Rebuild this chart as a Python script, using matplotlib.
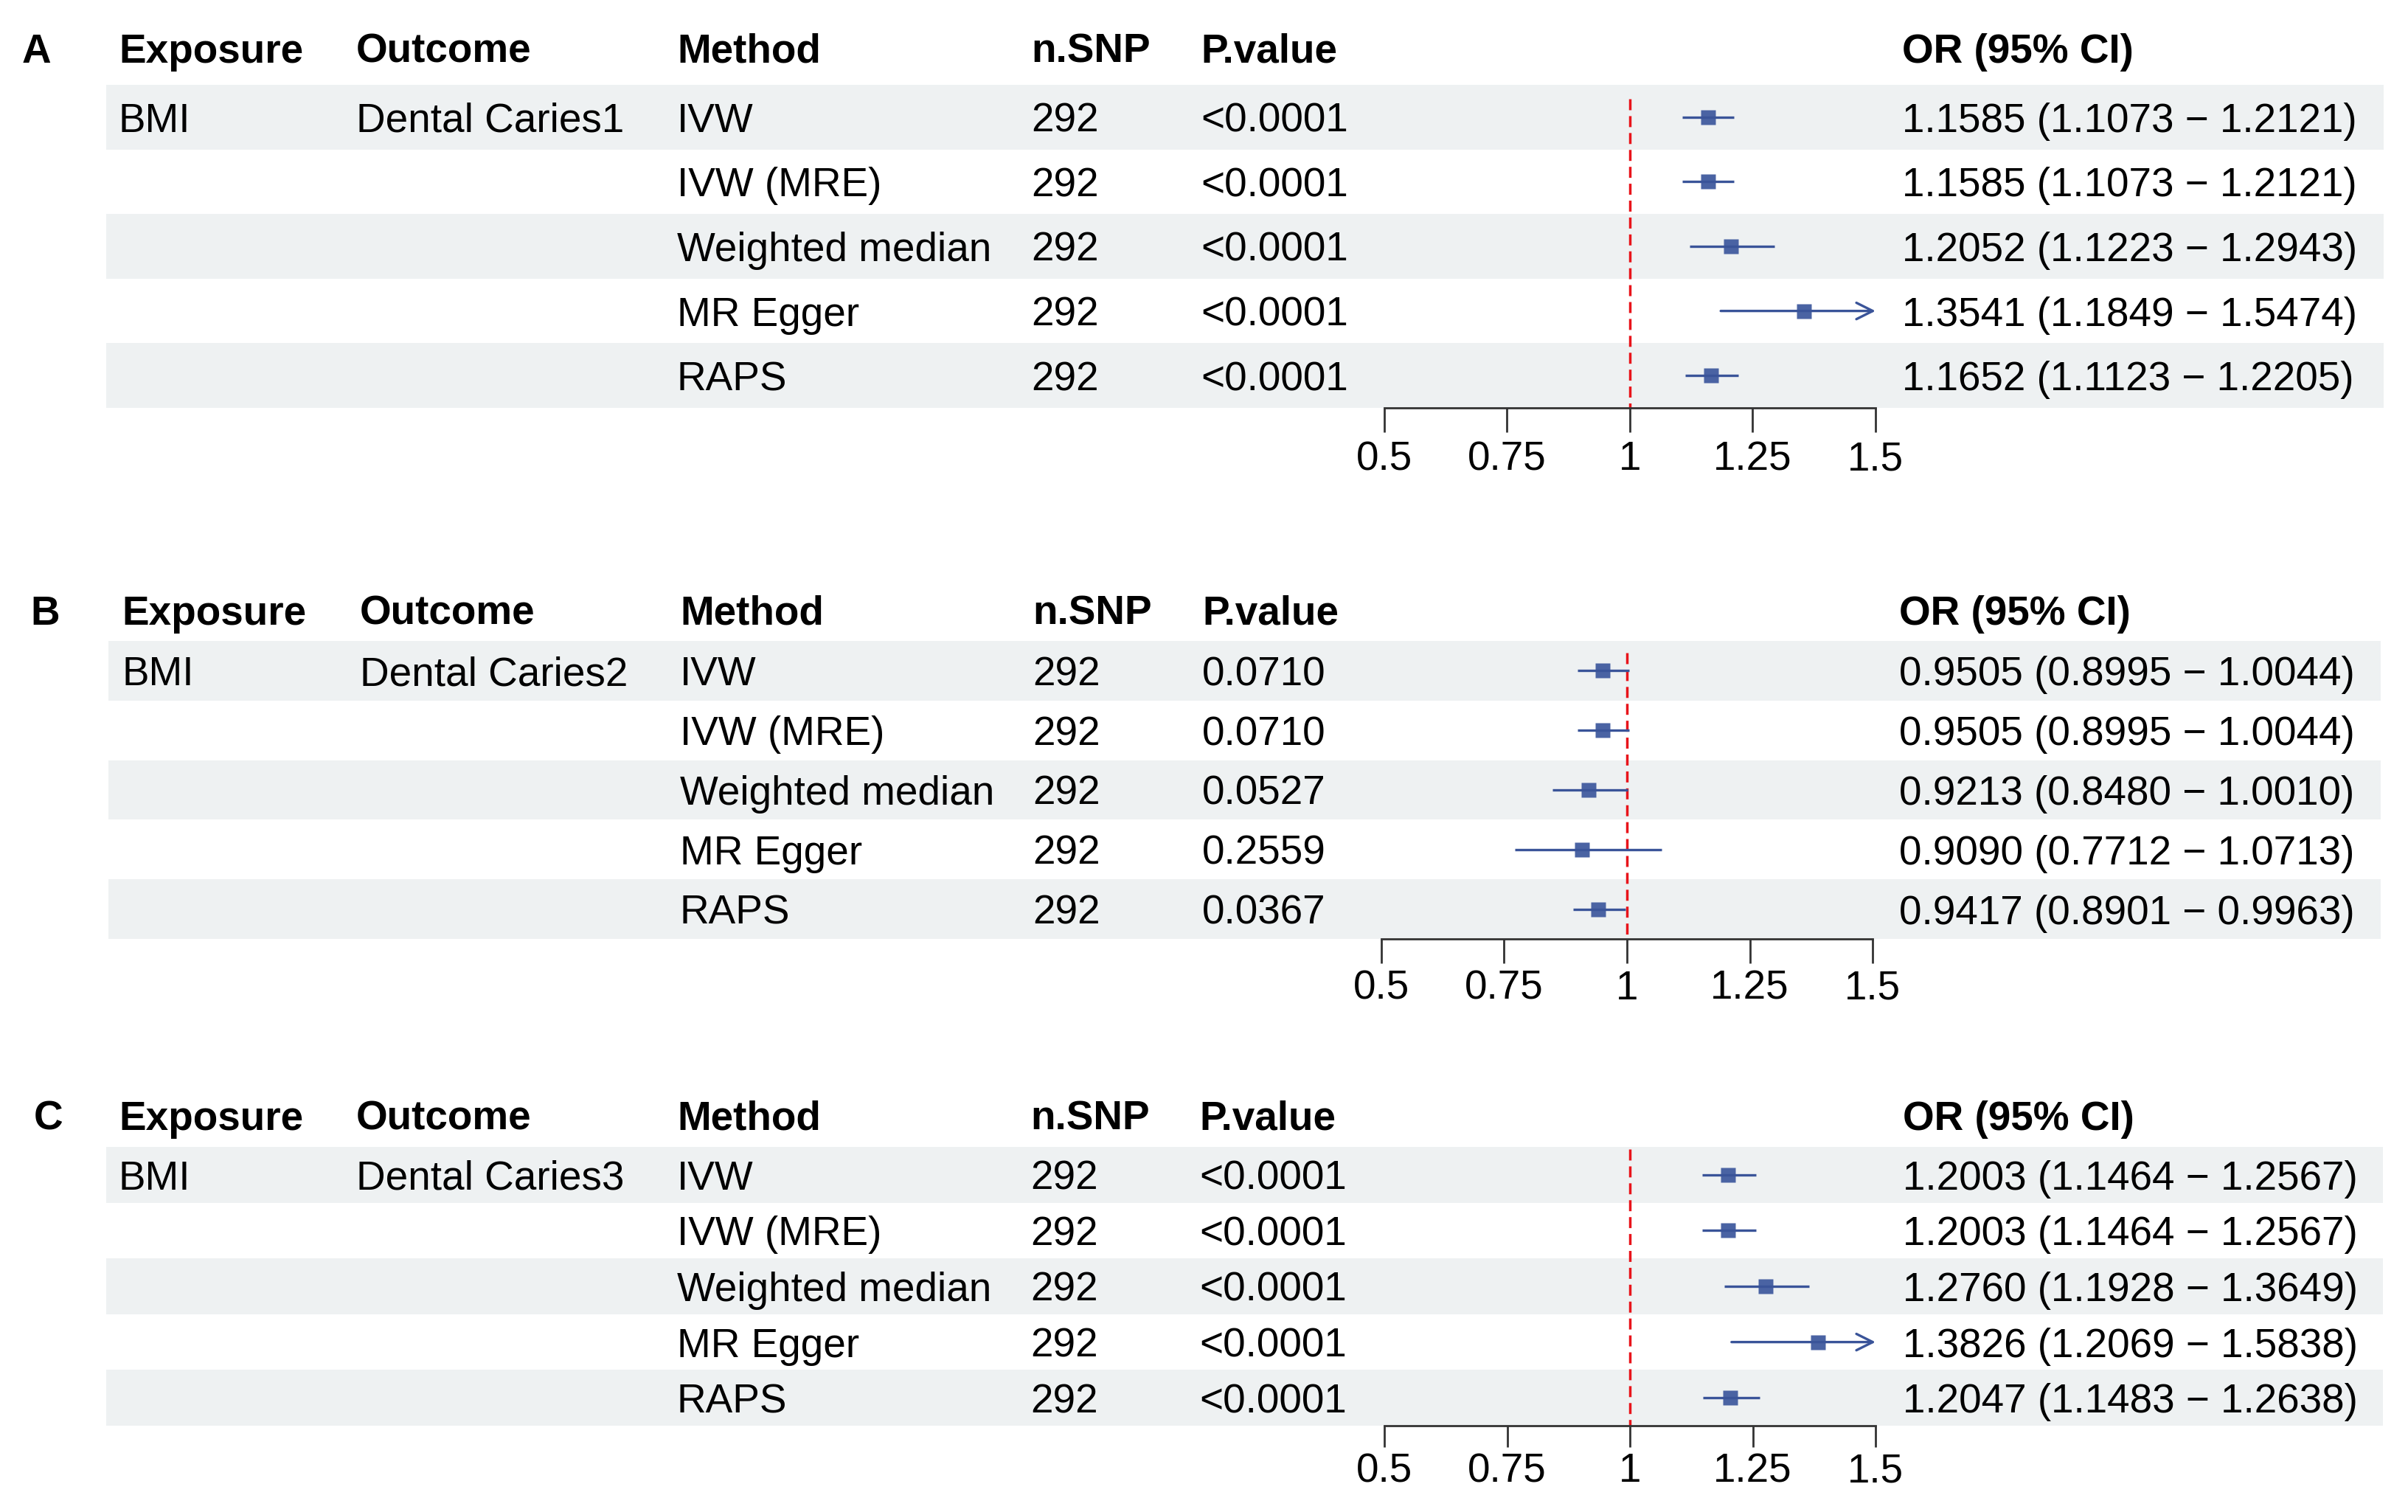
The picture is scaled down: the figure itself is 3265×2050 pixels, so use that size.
import matplotlib
matplotlib.use("Agg")
import matplotlib.pyplot as plt
import matplotlib.transforms as mtransforms

plt.rcParams['font.family'] = ['Liberation Sans', 'DejaVu Sans']

# ---- data ----
methods = ["IVW", "IVW (MRE)", "Weighted median", "MR Egger", "RAPS"]
exposure = "BMI"
outcomes = ["Dental Caries1", "Dental Caries2", "Dental Caries3"]
n_snp = [292, 292, 292, 292, 292]

or_a = [1.1585, 1.1585, 1.2052, 1.3541, 1.1652]
lo_a = [1.1073, 1.1073, 1.1223, 1.1849, 1.1123]
hi_a = [1.2121, 1.2121, 1.2943, 1.5474, 1.2205]
p_a = ["<0.0001", "<0.0001", "<0.0001", "<0.0001", "<0.0001"]

or_b = [0.9505, 0.9505, 0.9213, 0.9090, 0.9417]
lo_b = [0.8995, 0.8995, 0.8480, 0.7712, 0.8901]
hi_b = [1.0044, 1.0044, 1.0010, 1.0713, 0.9963]
p_b = ["0.0710", "0.0710", "0.0527", "0.2559", "0.0367"]

or_c = [1.2003, 1.2003, 1.2760, 1.3826, 1.2047]
lo_c = [1.1464, 1.1464, 1.1928, 1.2069, 1.1483]
hi_c = [1.2567, 1.2567, 1.3649, 1.5838, 1.2638]
p_c = ["<0.0001", "<0.0001", "<0.0001", "<0.0001", "<0.0001"]

headers = ["Exposure", "Outcome", "Method", "n.SNP", "P.value", "OR (95% CI)"]
ticks = [0.5, 0.75, 1, 1.25, 1.5]
tick_labels = ["0.5", "0.75", "1", "1.25", "1.5"]

# ---- styling ----
W, H = 3266, 2050
FS = 39.5
BAND = "#EEF1F2"
SQ_COLOR = "#4A63A3"
LINE_COLOR = "#3A5499"

fig = plt.figure(figsize=(W / 100, H / 100), dpi=100)
fig.patch.set_facecolor("white")

# panel geometry in pixels: band box, tick positions of 0.5 / 1.5, text columns
panels = [
    dict(tag="A", o=or_a, lo=lo_a, hi=hi_a, p=p_a, out=outcomes[0],
         left=144, right=3232, top=115, bottom=553, x05=1877, x15=2543,
         head_y=65, tag_x=49, red_top=134,
         cols=[161, 483, 918, 1398, 1628, 2579], tick_len=24, pad=8),
    dict(tag="B", o=or_b, lo=lo_b, hi=hi_b, p=p_b, out=outcomes[1],
         left=147, right=3228, top=869, bottom=1273, x05=1873, x15=2539,
         head_y=827, tag_x=61, red_top=885,
         cols=[165, 488, 922, 1400, 1630, 2575], tick_len=24, pad=6),
    dict(tag="C", o=or_c, lo=lo_c, hi=hi_c, p=p_c, out=outcomes[2],
         left=144, right=3231, top=1555, bottom=1933, x05=1877, x15=2543,
         head_y=1512, tag_x=66, red_top=1558,
         cols=[161, 483, 918, 1397, 1626, 2580], tick_len=21, pad=5),
]

for pn in panels:
    nrow = len(methods)
    row_h = (pn["bottom"] - pn["top"]) / nrow
    ax = fig.add_axes([pn["left"] / W, 1 - pn["bottom"] / H,
                       (pn["right"] - pn["left"]) / W,
                       (pn["bottom"] - pn["top"]) / H])
    ppu = pn["x15"] - pn["x05"]
    ax.set_xlim(0.5 - (pn["x05"] - pn["left"]) / ppu,
                1.5 + (pn["right"] - pn["x15"]) / ppu)
    ax.set_ylim(nrow - 0.5, -0.5)
    ax.set_facecolor("none")

    for i in range(0, nrow, 2):
        ax.axhspan(i - 0.5, i + 0.5, color=BAND, lw=0, zorder=0)

    # reference line at OR = 1
    red_top = -0.5 + (pn["red_top"] - pn["top"]) / row_h
    ax.vlines(1, red_top, nrow - 0.5, colors="#E8141B", lw=2.5,
              linestyles=(0, (4.3, 2.3)), zorder=2)

    for i in range(nrow):
        lo, hi, o = pn["lo"][i], pn["hi"][i], pn["o"][i]
        ax.plot(o, i, marker="s", ms=14.5, color=SQ_COLOR, mec="none", zorder=3)
        if hi > 1.5:
            ax.annotate("", xy=(1.5, i), xytext=(lo, i),
                        arrowprops=dict(arrowstyle="->,head_length=0.8,head_width=0.4",
                                        color=LINE_COLOR, lw=2.4, mutation_scale=20,
                                        shrinkA=0, shrinkB=0),
                        zorder=4)
        else:
            ax.plot([lo, hi], [i, i], color=LINE_COLOR, lw=2.4,
                    solid_capstyle="butt", zorder=4)

    # axis
    for s in ["left", "top", "right"]:
        ax.spines[s].set_visible(False)
    ax.spines["bottom"].set_bounds(0.5, 1.5)
    ax.spines["bottom"].set_linewidth(2)
    ax.spines["bottom"].set_color("#333333")
    ax.set_yticks([])
    ax.set_xticks(ticks)
    ax.set_xticklabels(tick_labels, fontsize=FS)
    ax.tick_params(axis="x", length=pn["tick_len"], width=2, color="#333333",
                   pad=pn["pad"])

    # table text (nudged down a little so glyphs sit centred in the rows)
    tr = mtransforms.blended_transform_factory(fig.transFigure, ax.transData)
    tr = mtransforms.offset_copy(tr, fig=fig, y=-4.3, units="points")
    cx = [c / W for c in pn["cols"]]
    head_row = -0.5 - (pn["top"] - pn["head_y"]) / row_h
    for x, h in zip(cx, headers):
        ax.text(x, head_row, h, transform=tr, fontsize=FS, fontweight="bold",
                ha="left", va="center", clip_on=False)
    ax.text(pn["tag_x"] / W, head_row, pn["tag"], transform=tr, fontsize=FS,
            fontweight="bold", ha="center", va="center", clip_on=False)

    ax.text(cx[0], 0, exposure, transform=tr, fontsize=FS, ha="left", va="center")
    ax.text(cx[1], 0, pn["out"], transform=tr, fontsize=FS, ha="left", va="center")
    for i in range(nrow):
        ax.text(cx[2], i, methods[i], transform=tr, fontsize=FS, ha="left", va="center")
        ax.text(cx[3], i, str(n_snp[i]), transform=tr, fontsize=FS, ha="left", va="center")
        ax.text(cx[4], i, pn["p"][i], transform=tr, fontsize=FS, ha="left", va="center")
        label = f"{pn['o'][i]:.4f} ({pn['lo'][i]:.4f} \u2212 {pn['hi'][i]:.4f})"
        ax.text(cx[5], i, label, transform=tr, fontsize=FS, ha="left", va="center")

fig.savefig("out.png", dpi=100, facecolor="white")
